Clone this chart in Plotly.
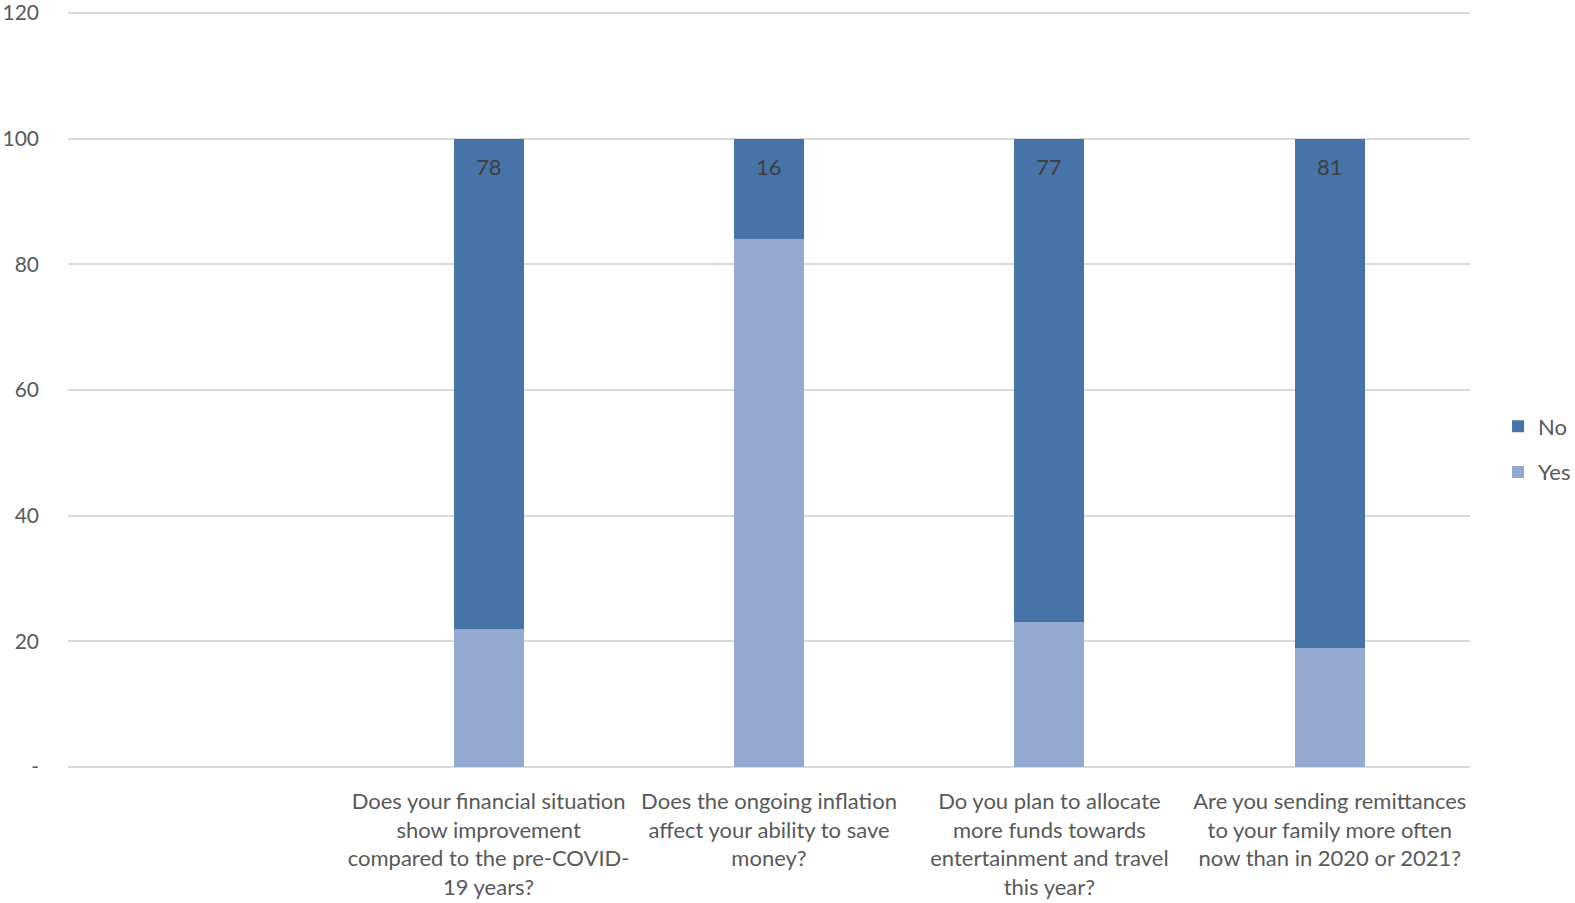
import plotly.graph_objects as go

categories = [
    " ",
    "Does your financial situation<br>show improvement<br>compared to the pre-COVID-<br>19 years?",
    "Does the ongoing inflation<br>affect your ability to save<br>money?",
    "Do you plan to allocate<br>more funds towards<br>entertainment and travel<br>this year?",
    "Are you sending remittances<br>to your family more often<br>now than in 2020 or 2021?",
]
yes_vals = [None, 22, 84, 23, 19]
no_vals = [None, 78, 16, 77, 81]
y_ticks = [0, 20, 40, 60, 80, 100, 120]
y_tick_text = ["-", "20", "40", "60", "80", "100", "120"]

FONT = "Lato"
GREY = "#595959"

fig = go.Figure()
fig.add_trace(go.Bar(x=categories, y=yes_vals, name="Yes", marker_color="#95AAD1",
                     marker_line_width=0, width=0.25, legendgroup="yes", legendrank=2))
fig.add_trace(go.Bar(x=categories, y=no_vals, name="No", marker_color="#4673A8",
                     marker_line_width=0, width=0.25, legendgroup="no", legendrank=1))

for c, y, n in zip(categories, yes_vals, no_vals):
    if n is None:
        continue
    fig.add_annotation(x=c, y=y + n, text=str(n), showarrow=False, yanchor="top",
                       yshift=-12, font=dict(family=FONT, size=22, color="#404040"))

fig.update_layout(
    barmode="stack",
    width=1575, height=903,
    margin=dict(l=68, r=105, t=11, b=136, autoexpand=False),
    plot_bgcolor="white", paper_bgcolor="white",
    font=dict(family=FONT, size=22, color=GREY),
    legend=dict(x=1.02, xanchor="left", y=0.42, yanchor="middle",
                font=dict(family=FONT, size=22, color=GREY),
                tracegroupgap=14, traceorder="grouped"),
    xaxis=dict(showgrid=False, showline=False, ticks="", automargin=False,
               ticklabelstandoff=19, tickfont=dict(size=22, color=GREY)),
    yaxis=dict(range=[0, 120.3], tickvals=y_ticks, ticktext=y_tick_text, automargin=False,
               showgrid=True, gridcolor="#D9D9D9", gridwidth=1.5,
               zeroline=True, zerolinecolor="#D9D9D9", zerolinewidth=1.5,
               ticklabeloverflow="allow",
               ticklabelstandoff=28, tickfont=dict(size=21, color=GREY)),
)

fig.write_html("out.html")
